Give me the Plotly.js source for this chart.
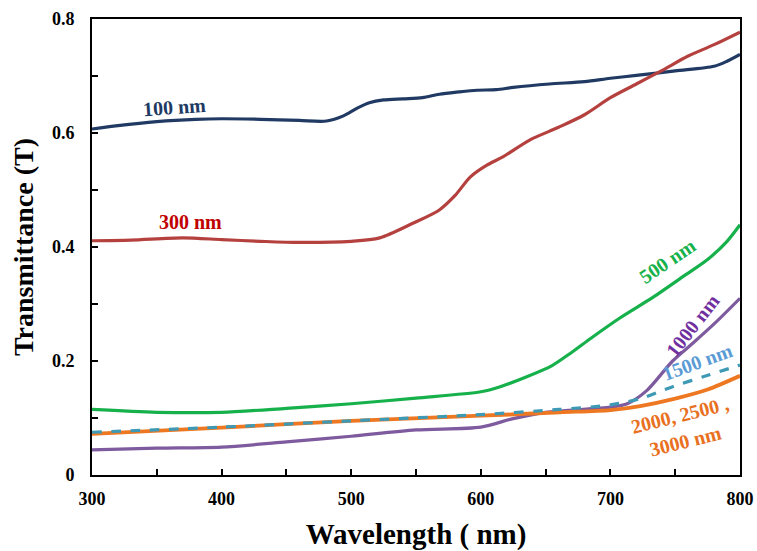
<!DOCTYPE html>
<html><head><meta charset="utf-8">
<script src="https://cdn.plot.ly/plotly-3.0.1.min.js"></script>
<style>body{margin:0;background:#fff}#c{width:757px;height:551px}</style>
</head><body><div id="c"></div>
<script>
const wl100 = [300,320,350,380,400,430,460,481,494,505,514,525,540,555,568,583,597,612,625,653,680,700,720,750,780,790,800];
const t100 = [0.607,0.613,0.620,0.624,0.625,0.624,0.622,0.621,0.630,0.644,0.653,0.658,0.660,0.662,0.668,0.672,0.675,0.676,0.680,0.686,0.690,0.696,0.701,0.709,0.717,0.726,0.738];

const wl300 = [300,330,370,400,430,460,500,522,548,568,580,592,605,617,638,660,680,700,720,740,760,780,800];
const t300 = [0.411,0.412,0.416,0.413,0.410,0.408,0.410,0.416,0.442,0.465,0.490,0.523,0.544,0.558,0.588,0.610,0.632,0.662,0.686,0.710,0.735,0.755,0.777];

const wl500 = [300,350,400,450,500,550,600,615,635,655,670,685,707,733,754,775,790,800];
const t500 = [0.115,0.110,0.110,0.117,0.125,0.135,0.146,0.155,0.172,0.192,0.215,0.240,0.275,0.312,0.345,0.378,0.410,0.439];

const wl1000 = [300,350,400,450,500,550,600,625,650,700,713,728,748,764,780,800];
const t1000 = [0.044,0.047,0.049,0.058,0.068,0.079,0.084,0.099,0.110,0.119,0.125,0.148,0.200,0.232,0.265,0.310];

const wl1500 = [300,400,500,600,660,700,723,748,774,800];
const t1500 = [0.075,0.084,0.095,0.106,0.115,0.123,0.134,0.155,0.174,0.193];

const wl2000 = [300,400,500,600,661,700,723,750,775,800];
const t2000 = [0.072,0.083,0.095,0.104,0.110,0.114,0.121,0.134,0.150,0.174];

const xTicks = [300,400,500,600,700,800];
const yTicks = [0,0.2,0.4,0.6,0.8];
const yTickText = ['0','0.2','0.4','0.6','0.8'];

function tr(x,y,color,w,dash){
  return {x:x,y:y,type:'scatter',mode:'lines',line:{color:color,width:w,dash:dash||'solid',shape:'spline',smoothing:0.8},hoverinfo:'skip',showlegend:false};
}
const data = [
  tr(wl100,t100,'#203A63',3.2),
  tr(wl300,t300,'#B5413F',3.2),
  tr(wl500,t500,'#17B14C',3.2),
  tr(wl1000,t1000,'#7E5A9E',3.2),
  tr(wl2000,t2000,'#EE7722',3.8),
  tr(wl1500,t1500,'#3E9AB4',3.2,'dash')
];

const F = 'Liberation Serif, Times New Roman, serif';
function ann(text,x,y,color,angle,size){
  return {text:'<b>'+text+'</b>',x:x,y:y,xref:'x',yref:'y',showarrow:false,textangle:angle,font:{family:F,size:size||20,color:color}};
}
const layout = {
  width:757,height:551,
  margin:{l:92,r:17,t:19,b:76},
  paper_bgcolor:'#fff',plot_bgcolor:'#fff',
  font:{family:F,color:'#000'},
  xaxis:{range:[300,800],tickvals:xTicks,ticktext:xTicks.map(String),
    ticks:'inside',ticklen:6,tickwidth:2,tickcolor:'#000',
    minor:{dtick:50,ticks:'inside',ticklen:6,tickwidth:2,tickcolor:'#000'},
    showline:true,linecolor:'#000',linewidth:2,mirror:true,showgrid:false,zeroline:false,
    tickfont:{family:F,size:18,color:'#000',weight:'bold'},ticklabelstandoff:6,
    title:{text:'<b>Wavelength ( nm)</b>',font:{family:F,size:29,color:'#000'},standoff:20}},
  yaxis:{range:[0,0.8],tickvals:yTicks,ticktext:yTickText,
    ticks:'inside',ticklen:6,tickwidth:2,tickcolor:'#000',
    minor:{dtick:0.1,ticks:'inside',ticklen:6,tickwidth:2,tickcolor:'#000'},
    showline:true,linecolor:'#000',linewidth:2,mirror:true,showgrid:false,zeroline:false,
    tickfont:{family:F,size:18,color:'#000',weight:'bold'},ticklabelstandoff:12,
    title:{text:'<b>Transmittance (T)</b>',font:{family:F,size:28,color:'#000'},standoff:10}},
  annotations:[
    ann('100 nm',364,0.646,'#203A63',-4),
    ann('300 nm',376,0.444,'#C00000',0),
    ann('500 nm',744,0.375,'#17B14C',-34),
    ann('1000 nm',763,0.262,'#7030A0',-52),
    ann('1500 nm',767,0.198,'#5B9BD5',-20),
    ann('2000, 2500 ,',754,0.105,'#E8701E',-14),
    ann('3000 nm',758,0.06,'#E8701E',-14)
  ]
};
Plotly.newPlot('c',data,layout,{staticPlot:true});
</script></body></html>
